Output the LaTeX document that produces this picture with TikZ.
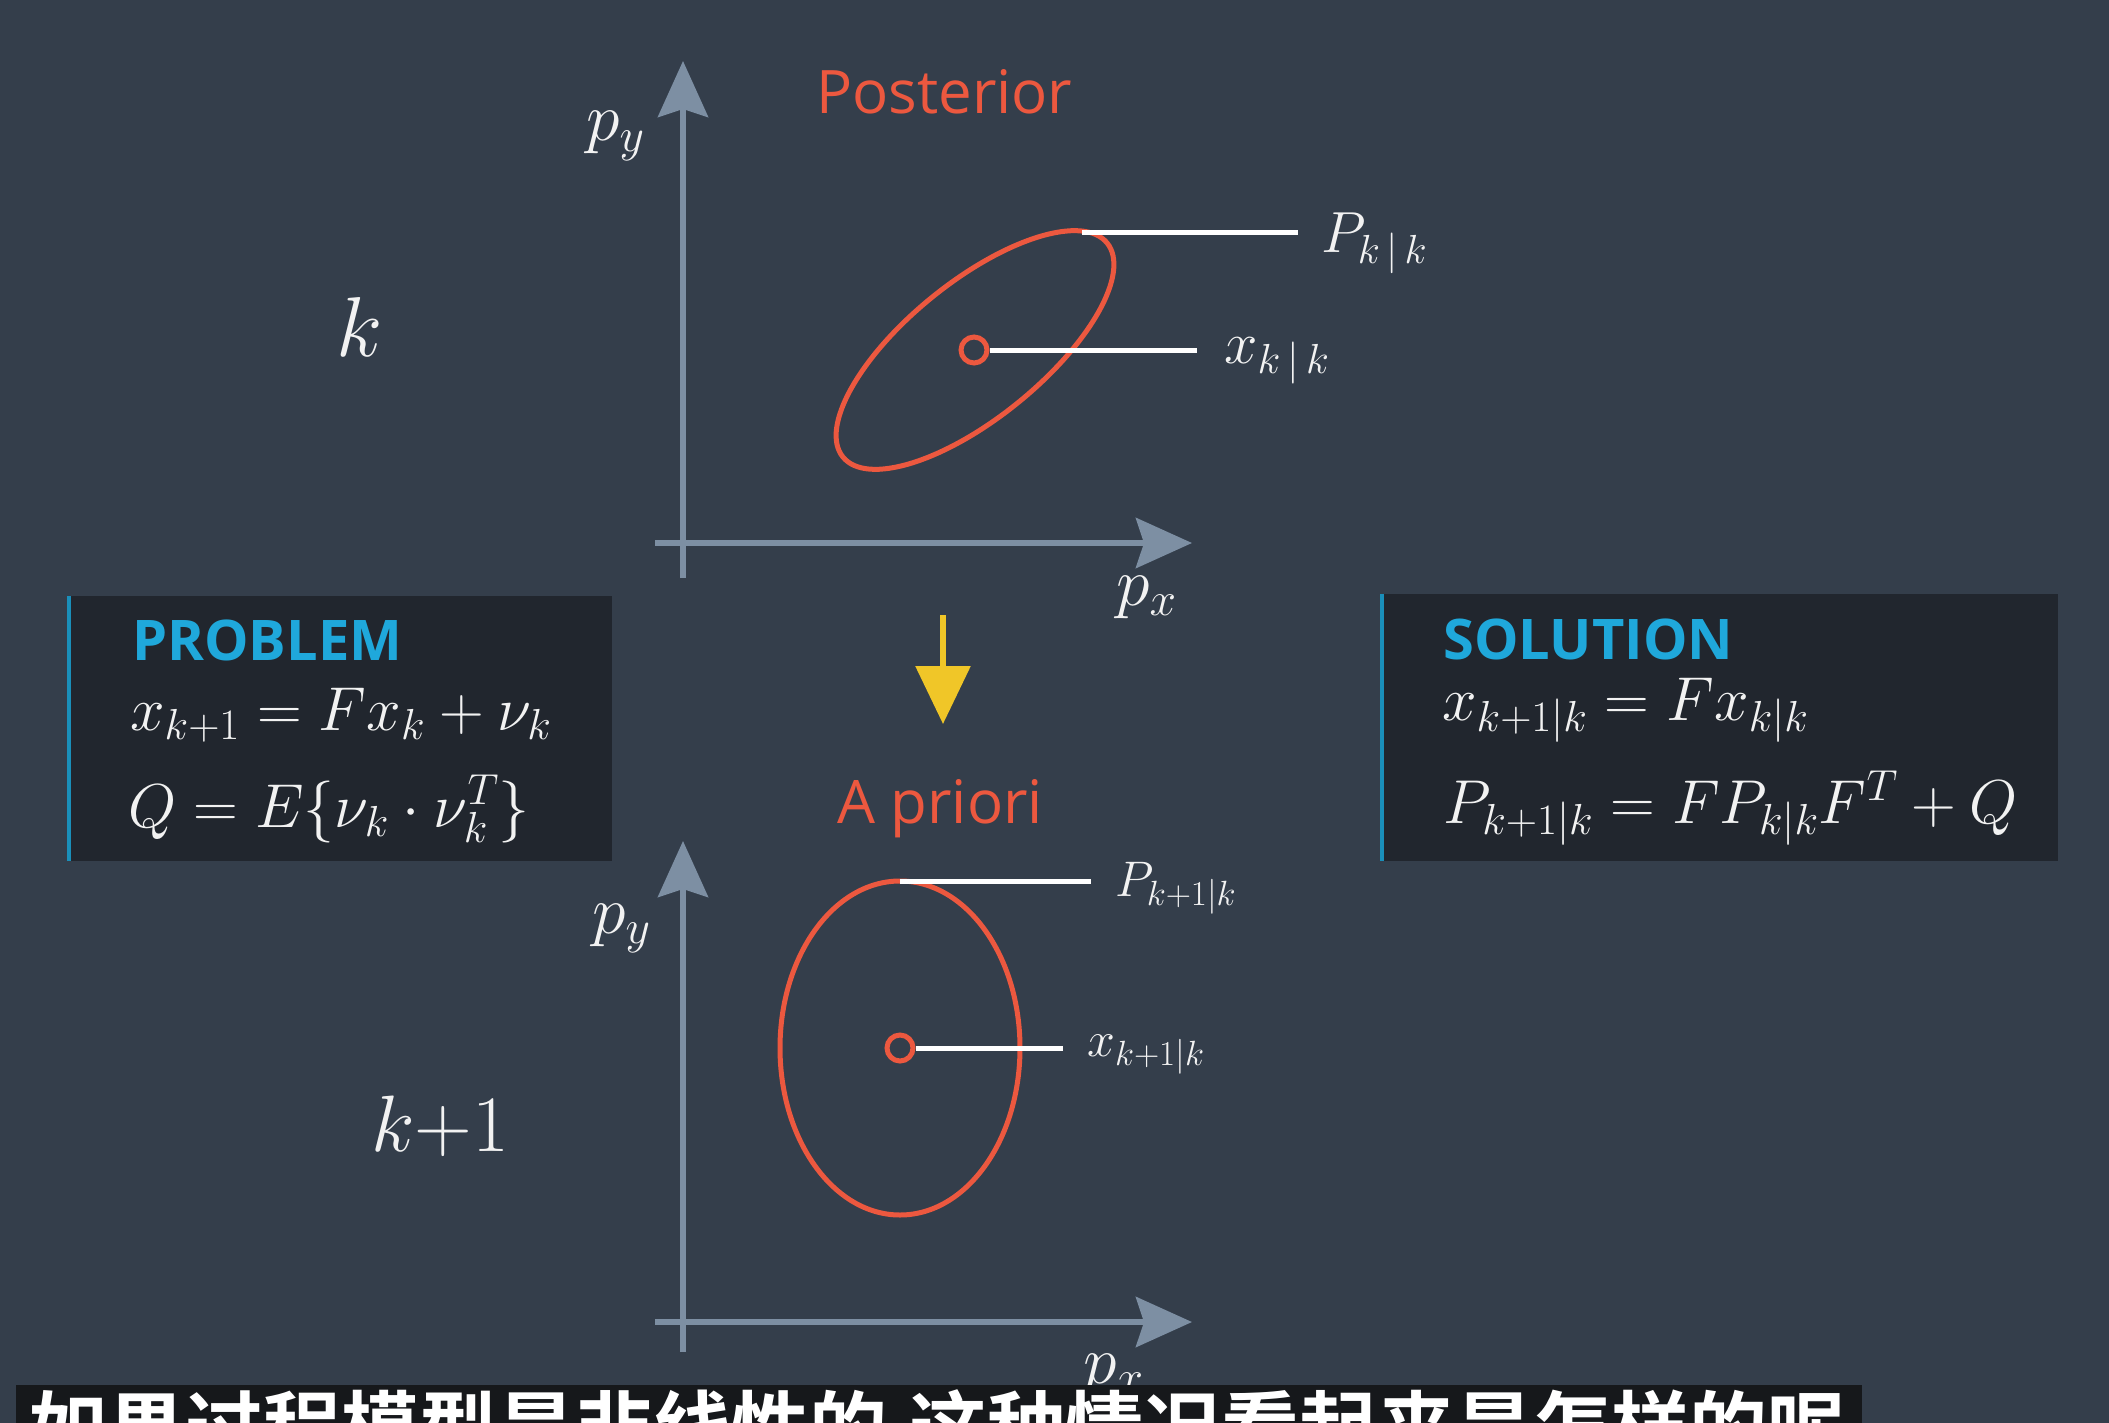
\documentclass[tikz,border=0pt]{standalone}
\usepackage{fix-cm}
\usepackage{fontspec}
\usetikzlibrary{arrows.meta}
\newfontfamily\osans{Open Sans}
\newfontfamily\cjk{Noto Sans CJK SC}[BoldFont={Noto Sans CJK SC Bold}]
\newcommand\fs[1]{\fontsize{#1}{#1}\selectfont}
\definecolor{bgc}{RGB}{52,62,75}
\definecolor{boxc}{RGB}{33,38,46}
\definecolor{axisc}{RGB}{125,143,163}
\definecolor{redc}{RGB}{236,88,63}
\definecolor{cyanc}{RGB}{31,168,219}
\definecolor{yelc}{RGB}{240,198,40}
\definecolor{barc}{RGB}{22,24,27}
\definecolor{txt}{RGB}{242,242,242}
\tikzset{
  lbl/.style={text=txt, inner sep=0pt, anchor=base west},
  axisline/.style={draw=axisc, line width=6pt, -{Stealth[length=56pt,width=50pt,inset=8pt]}},
  redline/.style={draw=redc, line width=5pt},
  whiteline/.style={draw=white, line width=5pt},
  ttl/.style={text=redc, font=\osans\fs{60}, inner sep=0pt, anchor=base west},
  hd/.style={text=cyanc, font=\osans\bfseries\fs{56}, inner sep=0pt, anchor=base west},
  mth/.style={lbl, font=\fs{62}},
}
\begin{document}
\begin{tikzpicture}[x=1pt,y=-1pt]
\useasboundingbox (0,0) rectangle (2109,1423);
\fill[bgc] (0,0) rectangle (2109,1423);
\clip (0,0) rectangle (2109,1423);

% ---------- top plot ----------
\coordinate (ty0) at (683,578);
\coordinate (ty1) at (683,61);
\coordinate (tx0) at (655,543);
\coordinate (tx1) at (1192,543);
\draw[axisline] (ty0) -- (ty1);
\draw[axisline] (tx0) -- (tx1);
\node[lbl, font=\fs{68}] (py1) at (586,141) {$p_y$};
\node[lbl, font=\fs{68}] (px1) at (1116,605) {$p_x$};
\node[ttl] (post) at (816,114) {Posterior};
\node[lbl, font=\fs{85}] (kk) at (336,356) {$k$};

\begin{scope}[shift={(975,350)}, rotate=39]
  \draw[redline] (0,0) ellipse [x radius=170, y radius=68];
\end{scope}
\node[circle, draw=redc, line width=5pt, minimum size=26pt, inner sep=0pt] (c1) at (974,350) {};
\coordinate (etop1) at (1082,233);
\coordinate (pl1) at (1298,233);
\coordinate (xl1) at (1197,350);
\draw[whiteline] (etop1) -- (pl1);
\draw[whiteline] (c1.east) -- (xl1);
\node[lbl, font=\fs{58}] (Pkk) at (1321,253) {$P_{k\,|\,k}$};
\node[lbl, font=\fs{60}] (xkk) at (1224,363) {$x_{k\,|\,k}$};

% ---------- middle ----------
\coordinate (ya0) at (943,615);
\coordinate (ya1) at (943,724);
\draw[draw=yelc, line width=6pt, -{Triangle[length=58pt,width=54pt]}] (ya0) -- (ya1);
\node[ttl] (apri) at (837,823) {A priori};

% problem box
\fill[boxc] (67,596) rectangle (612,861);
\fill[cyanc!85!black] (67,596) rectangle (71,861);
\node[hd] (probt) at (132,660) {PROBLEM};
\node[mth] (eq1) at (130,730) {$x_{k+1} = Fx_k + \nu_k$};
\node[mth] (eq2) at (128,827) {$Q = E\{\nu_k \cdot \nu_k^T\}$};

% solution box
\fill[boxc] (1380,594) rectangle (2058,861);
\fill[cyanc!85!black] (1380,594) rectangle (1384,861);
\node[hd] (solt) at (1443,659) {SOLUTION};
\node[mth] (eq3) at (1442,720) {$x_{k+1|k} = Fx_{k|k}$};
\node[mth] (eq4) at (1443,823) {$P_{k+1|k} = FP_{k|k}F^T + Q$};

% ---------- bottom plot ----------
\coordinate (by0) at (683,1352);
\coordinate (by1) at (683,841);
\coordinate (bx0) at (655,1322);
\coordinate (bx1) at (1192,1322);
\draw[axisline] (by0) -- (by1);
\draw[axisline] (bx0) -- (bx1);
\node[lbl, font=\fs{68}] (py2) at (592,933) {$p_y$};
\node[lbl, font=\fs{68}] (px2) at (1083,1383) {$p_x$};
\node[lbl, font=\fs{80}] (k1) at (371,1151) {$k{+}1$};

\draw[redline] (900,1048) ellipse [x radius=120, y radius=167];
\node[circle, draw=redc, line width=5pt, minimum size=26pt, inner sep=0pt] (c2) at (900,1048) {};
\coordinate (etop2) at (900,881);
\coordinate (pl2) at (1091,881);
\coordinate (xl2) at (1063,1048);
\draw[whiteline] (etop2) -- (pl2);
\draw[whiteline] (c2.east) -- (xl2);
\node[lbl, font=\fs{50}] (Pk1) at (1115,896) {$P_{k+1|k}$};
\node[lbl, font=\fs{50}] (xk1) at (1087,1056) {$x_{k+1|k}$};

% ---------- subtitle bar ----------
\fill[barc] (16,1385) rectangle (1862,1423);
\node[anchor=base west, inner sep=0pt, text=white, font=\cjk\bfseries\fs{78}] (sub) at (29,1456)
  {如果过程模型是非线性的\hspace{22pt}这种情况看起来是怎样的呢};
\end{tikzpicture}
\end{document}
